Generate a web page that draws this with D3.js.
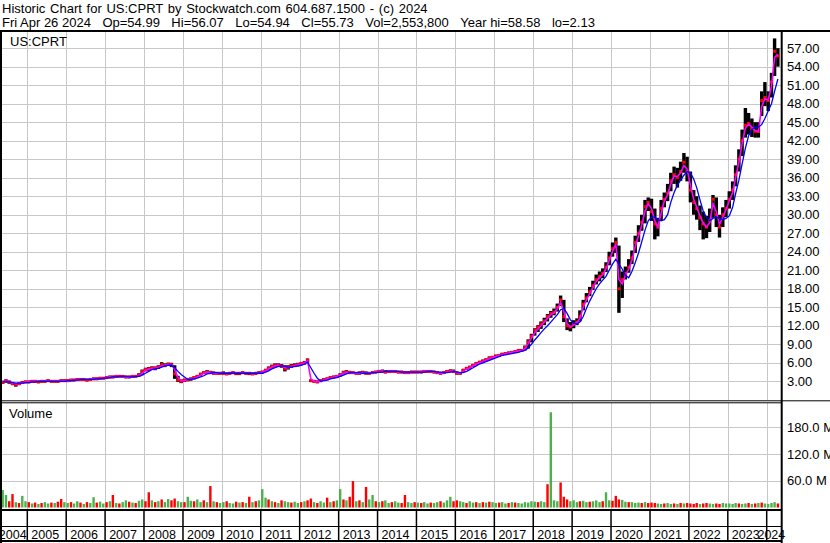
<!DOCTYPE html>
<html>
<head>
<meta charset="utf-8">
<script src="https://cdn.jsdelivr.net/npm/d3@7"></script>
<style>
  body { margin: 0; background: #fff; }
  svg { display: block; font-family: Arial, "Liberation Sans", sans-serif; }
</style>
</head>
<body>
<svg id="chart"></svg>
<script>
// Canvas size
const width = 830, height = 543;

// Header texts
const titleLine = "Historic Chart for US:CPRT by Stockwatch.com 604.687.1500 - (c) 2024";
const quoteFields = ["Fri Apr 26 2024", "Op=54.99", "Hi=56.07", "Lo=54.94", "Cl=55.73",
                     "Vol=2,553,800", "Year hi=58.58", "lo=2.13"];
const symbol = "US:CPRT";

// Monthly bars, first one is May 2004 (one row per year)
const firstYear = 2004, firstMonth = 4;

const hi = [
  3.1, 3.3, 3.1, 2.9, 2.7, 2.8, 3.0, 3.1,
  3.1, 3.2, 3.2, 3.1, 3.2, 3.2, 3.3, 3.2, 3.2, 3.2, 3.3, 3.3,
  3.3, 3.4, 3.4, 3.5, 3.5, 3.5, 3.4, 3.5, 3.6, 3.6, 3.7, 3.7,
  3.8, 3.9, 3.9, 4.0, 4.0, 4.0, 3.9, 3.9, 4.0, 4.0, 4.3, 4.9,
  5.2, 5.3, 5.4, 5.4, 5.6, 6.1, 5.9, 6.0, 6.0, 5.6, 3.9, 3.3,
  3.4, 3.5, 3.6, 3.8, 4.0, 4.4, 4.6, 4.8, 4.7, 4.6, 4.5, 4.5,
  4.6, 4.4, 4.5, 4.6, 4.5, 4.5, 4.6, 4.5, 4.5, 4.4, 4.5, 4.6,
  4.7, 5.0, 5.4, 5.7, 5.9, 5.9, 5.8, 5.6, 5.6, 5.8, 5.9, 6.0,
  6.1, 6.3, 6.7, 3.3, 3.2, 3.1, 3.3, 3.5, 3.6, 3.8, 3.9, 4.0,
  4.3, 4.7, 4.8, 4.7, 4.6, 4.5, 4.6, 4.7, 4.6, 4.5, 4.6, 4.7,
  4.8, 4.9, 4.8, 4.8, 4.8, 4.8, 4.7, 4.7, 4.6, 4.6, 4.7, 4.7,
  4.7, 4.7, 4.8, 4.8, 4.8, 4.7, 4.6, 4.5, 4.6, 4.8, 4.9, 4.9,
  4.6, 4.5, 5.0, 5.3, 5.5, 5.8, 6.1, 6.3, 6.5, 6.7, 7.0, 7.1,
  7.3, 7.4, 7.6, 7.7, 7.8, 7.9, 8.0, 8.2, 8.2, 8.8, 9.8, 10.7,
  11.6, 12.1, 12.7, 13.3, 13.9, 14.4, 14.8, 15.6, 16.9, 16.2, 13.2, 12.6,
  12.9, 13.2, 14.5, 16.2, 17.3, 18.3, 19.3, 20.3, 20.8, 21.3, 22.3, 24.0,
  25.5, 26.3, 25.0, 20.8, 21.6, 22.8, 24.2, 26.6, 28.3, 30.0, 32.4, 32.8,
  32.6, 31.0, 29.5, 32.4, 33.6, 35.0, 36.8, 37.8, 37.6, 38.6, 40.0, 39.4,
  37.0, 34.0, 33.0, 31.5, 30.5, 29.8, 31.0, 33.2, 32.8, 30.0, 31.2, 32.4,
  33.8, 35.4, 38.0, 40.6, 43.8, 47.3, 46.5, 45.6, 45.0, 45.0, 50.0, 51.5,
  50.0, 53.0, 58.58, 57.0
];

const lo = [
  2.6, 2.8, 2.6, 2.4, 2.13, 2.4, 2.6, 2.7,
  2.7, 2.8, 2.8, 2.7, 2.8, 2.8, 2.9, 2.8, 2.8, 2.8, 2.9, 2.9,
  2.9, 3.0, 3.0, 3.1, 3.1, 3.1, 3.0, 3.1, 3.2, 3.2, 3.3, 3.3,
  3.4, 3.5, 3.5, 3.6, 3.6, 3.6, 3.5, 3.5, 3.6, 3.6, 3.8, 4.0,
  4.6, 4.7, 4.9, 4.8, 5.0, 5.4, 5.3, 5.5, 5.3, 3.4, 2.9, 2.7,
  2.9, 3.0, 3.1, 3.3, 3.6, 3.9, 4.2, 4.3, 4.2, 4.1, 4.1, 4.1,
  4.1, 4.0, 4.1, 4.2, 4.0, 4.0, 4.2, 4.1, 4.0, 4.0, 4.1, 4.2,
  4.3, 4.5, 4.8, 5.1, 5.3, 5.3, 5.2, 4.6, 4.9, 5.2, 5.3, 5.4,
  5.6, 5.7, 6.0, 2.9, 2.8, 2.7, 2.9, 3.1, 3.2, 3.4, 3.5, 3.6,
  3.8, 4.1, 4.3, 4.2, 4.2, 4.1, 4.1, 4.2, 4.1, 4.1, 4.2, 4.3,
  4.4, 4.4, 4.3, 4.4, 4.4, 4.4, 4.3, 4.3, 4.2, 4.2, 4.3, 4.3,
  4.3, 4.3, 4.4, 4.4, 4.4, 4.3, 4.2, 4.1, 4.2, 4.4, 4.5, 4.4,
  4.1, 4.1, 4.5, 4.9, 5.1, 5.4, 5.7, 5.9, 6.1, 6.3, 6.5, 6.7,
  6.9, 7.0, 7.2, 7.3, 7.4, 7.5, 7.6, 7.8, 7.8, 8.0, 8.3, 9.3,
  10.4, 11.0, 11.5, 12.1, 12.7, 13.3, 13.7, 14.3, 15.2, 12.6, 11.3, 11.1,
  11.6, 12.1, 12.7, 14.5, 15.8, 16.8, 17.8, 18.7, 19.2, 19.7, 20.7, 21.8,
  23.2, 23.8, 14.1, 16.5, 19.5, 20.6, 22.0, 23.8, 25.6, 27.4, 28.6, 30.6,
  29.0, 26.0, 26.5, 29.0, 31.2, 32.2, 33.8, 35.0, 34.4, 35.5, 36.8, 35.4,
  32.0, 30.0, 29.2, 27.5, 26.0, 26.2, 27.2, 29.5, 28.0, 26.3, 28.0, 29.6,
  31.0, 32.4, 34.6, 37.0, 39.5, 42.5, 43.0, 42.6, 42.5, 42.5, 46.0, 47.6,
  46.8, 49.0, 52.5, 54.0
];

const cl = [
  2.8, 3.1, 2.9, 2.6, 2.5, 2.6, 2.8, 2.9,
  2.9, 3.0, 3.0, 2.9, 3.0, 3.0, 3.1, 3.0, 3.0, 3.0, 3.1, 3.1,
  3.1, 3.2, 3.2, 3.3, 3.3, 3.3, 3.2, 3.3, 3.4, 3.4, 3.5, 3.5,
  3.6, 3.7, 3.7, 3.8, 3.8, 3.8, 3.7, 3.7, 3.8, 3.8, 4.0, 4.6,
  4.9, 5.0, 5.2, 5.1, 5.3, 5.7, 5.6, 5.8, 5.7, 4.2, 3.2, 3.0,
  3.2, 3.3, 3.4, 3.6, 3.8, 4.1, 4.4, 4.5, 4.4, 4.3, 4.3, 4.3,
  4.3, 4.2, 4.3, 4.4, 4.3, 4.3, 4.4, 4.3, 4.3, 4.2, 4.3, 4.4,
  4.5, 4.8, 5.1, 5.4, 5.6, 5.6, 5.5, 5.0, 5.3, 5.5, 5.6, 5.7,
  5.9, 6.0, 6.4, 3.1, 3.0, 2.9, 3.1, 3.3, 3.4, 3.6, 3.7, 3.8,
  4.0, 4.4, 4.5, 4.4, 4.4, 4.3, 4.3, 4.4, 4.3, 4.3, 4.4, 4.5,
  4.6, 4.6, 4.5, 4.6, 4.6, 4.6, 4.5, 4.5, 4.4, 4.4, 4.5, 4.5,
  4.5, 4.5, 4.6, 4.6, 4.6, 4.5, 4.4, 4.3, 4.4, 4.6, 4.7, 4.6,
  4.3, 4.3, 4.8, 5.1, 5.3, 5.6, 5.9, 6.1, 6.3, 6.5, 6.8, 6.9,
  7.1, 7.2, 7.4, 7.5, 7.6, 7.7, 7.8, 8.0, 8.0, 8.5, 9.4, 10.3,
  11.3, 11.8, 12.3, 12.8, 13.5, 14.0, 14.2, 15.0, 16.2, 13.5, 12.0, 11.8,
  12.3, 12.6, 13.5, 15.5, 16.5, 17.5, 18.5, 19.5, 20.0, 20.5, 21.5, 23.0,
  24.5, 25.5, 18.0, 19.5, 20.5, 21.5, 23.0, 25.5, 27.0, 28.8, 31.3, 32.0,
  30.5, 28.5, 28.0, 31.0, 32.5, 33.5, 35.5, 36.5, 36.0, 37.0, 38.5, 37.0,
  34.0, 32.0, 31.0, 29.5, 28.5, 28.0, 29.0, 32.5, 30.0, 28.0, 30.0, 31.0,
  32.5, 34.0, 36.5, 39.0, 42.0, 44.5, 44.8, 44.0, 43.5, 43.5, 48.5, 49.0,
  48.5, 51.5, 56.5, 55.73
];

// Short moving average (magenta)
const maShort = [
  2.9, 3.0, 3.0, 2.7, 2.6, 2.6, 2.7, 2.9,
  2.9, 3.0, 3.0, 3.0, 3.0, 3.0, 3.0, 3.0, 3.0, 3.0, 3.0, 3.1,
  3.1, 3.2, 3.2, 3.3, 3.3, 3.3, 3.3, 3.3, 3.4, 3.4, 3.5, 3.5,
  3.6, 3.7, 3.7, 3.8, 3.8, 3.8, 3.7, 3.7, 3.8, 3.8, 3.9, 4.3,
  4.8, 5.0, 5.1, 5.1, 5.2, 5.5, 5.6, 5.7, 5.7, 4.9, 3.6, 3.1,
  3.1, 3.3, 3.4, 3.5, 3.7, 4.0, 4.3, 4.5, 4.4, 4.3, 4.3, 4.3,
  4.3, 4.2, 4.3, 4.3, 4.3, 4.3, 4.3, 4.3, 4.3, 4.2, 4.3, 4.3,
  4.5, 4.7, 5.0, 5.3, 5.5, 5.6, 5.5, 5.2, 5.2, 5.4, 5.5, 5.7,
  5.8, 6.0, 6.3, 3.4, 3.0, 2.9, 3.0, 3.2, 3.4, 3.5, 3.7, 3.8,
  4.0, 4.3, 4.5, 4.4, 4.4, 4.3, 4.3, 4.4, 4.3, 4.3, 4.4, 4.5,
  4.6, 4.6, 4.5, 4.6, 4.6, 4.6, 4.5, 4.5, 4.4, 4.4, 4.5, 4.5,
  4.5, 4.5, 4.6, 4.6, 4.6, 4.5, 4.4, 4.3, 4.4, 4.5, 4.6, 4.6,
  4.4, 4.3, 4.6, 5.0, 5.2, 5.5, 5.8, 6.0, 6.2, 6.4, 6.7, 6.9,
  7.0, 7.2, 7.3, 7.5, 7.6, 7.7, 7.8, 7.9, 8.0, 8.3, 9.1, 10.0,
  10.9, 11.5, 12.0, 12.6, 13.2, 13.8, 14.1, 14.7, 15.8, 14.3, 12.3, 11.8,
  12.1, 12.5, 13.2, 15.0, 16.2, 17.2, 18.2, 19.2, 19.8, 20.3, 21.2, 22.6,
  24.0, 25.3, 19.5, 18.8, 20.2, 21.2, 22.6, 24.8, 26.6, 28.3, 30.6, 31.8,
  31.0, 29.0, 28.0, 30.2, 32.2, 33.2, 35.0, 36.3, 36.2, 36.8, 38.0, 37.4,
  34.8, 32.5, 31.2, 29.8, 28.7, 28.0, 28.7, 31.8, 30.5, 28.4, 29.6, 30.8,
  32.2, 33.6, 36.0, 38.5, 41.5, 44.0, 44.7, 44.2, 43.6, 43.5, 47.5, 48.8,
  48.6, 50.8, 55.5, 56.0
];

// Long moving average (blue)
const maLong = [
  2.9, 2.9, 2.9, 2.8, 2.7, 2.7, 2.7, 2.8,
  2.8, 2.9, 2.9, 3.0, 3.0, 3.0, 3.0, 3.0, 3.0, 3.0, 3.0, 3.0,
  3.1, 3.1, 3.2, 3.2, 3.3, 3.3, 3.3, 3.3, 3.3, 3.4, 3.4, 3.5,
  3.5, 3.6, 3.7, 3.7, 3.8, 3.8, 3.8, 3.7, 3.7, 3.8, 3.8, 4.0,
  4.3, 4.6, 4.9, 5.0, 5.1, 5.3, 5.5, 5.6, 5.6, 5.2, 4.6, 4.1,
  3.7, 3.3, 3.3, 3.4, 3.5, 3.7, 3.9, 4.2, 4.3, 4.4, 4.4, 4.3,
  4.3, 4.3, 4.3, 4.3, 4.3, 4.3, 4.3, 4.3, 4.3, 4.3, 4.3, 4.3,
  4.3, 4.5, 4.7, 5.0, 5.2, 5.4, 5.5, 5.4, 5.3, 5.3, 5.4, 5.5,
  5.6, 5.8, 6.1, 5.2, 4.3, 3.5, 3.0, 3.1, 3.2, 3.4, 3.5, 3.6,
  3.8, 4.0, 4.2, 4.4, 4.4, 4.4, 4.4, 4.3, 4.3, 4.3, 4.4, 4.4,
  4.5, 4.5, 4.6, 4.6, 4.6, 4.6, 4.6, 4.5, 4.5, 4.5, 4.5, 4.5,
  4.5, 4.5, 4.5, 4.6, 4.6, 4.6, 4.5, 4.5, 4.4, 4.4, 4.5, 4.6,
  4.5, 4.4, 4.4, 4.6, 4.9, 5.2, 5.5, 5.8, 6.0, 6.2, 6.4, 6.6,
  6.8, 7.0, 7.2, 7.3, 7.4, 7.5, 7.6, 7.7, 7.9, 8.0, 8.4, 9.0,
  9.7, 10.3, 10.9, 11.5, 12.0, 12.6, 13.2, 13.8, 14.6, 14.8, 14.0, 13.0,
  12.4, 12.3, 12.6, 13.5, 14.8, 16.0, 17.0, 18.0, 18.8, 19.4, 20.0, 21.0,
  22.0, 22.8, 22.0, 21.2, 20.2, 19.8, 20.8, 22.2, 23.8, 25.6, 27.5, 29.0,
  29.6, 29.6, 29.2, 29.0, 29.2, 30.0, 32.0, 33.6, 34.8, 35.6, 36.4, 37.0,
  36.8, 35.8, 34.4, 32.4, 30.6, 29.6, 29.0, 29.4, 29.6, 29.4, 29.2, 29.4,
  29.8, 31.2, 33.4, 35.6, 38.2, 40.8, 42.8, 43.8, 44.2, 44.2, 44.6, 45.6,
  46.8, 48.0, 50.0, 52.0
];

// Volume in millions of shares; negative = down period (red), positive = up (green)
const vol = [
  39, 28, -14, -30, 12, -10, 26, 14,
  -12, 9, -11, 8, -10, 12, 9, -11, 10, -13, -19, 12,
  10, -12, 9, 14, -11, 8, -12, 10, 23, -11, 13, 9,
  -12, 14, -28, 10, -9, 12, 16, -13, 11, -10, 15, 18,
  -14, -34, 16, -12, 14, -18, 12, 19, -16, -20, 14, 12,
  -12, 24, 15, -14, 18, 12, -16, 12, -48, 14, -12, 10,
  12, -14, 10, 9, -13, 11, -12, 10, -24, 12, -14, 16,
  41, 22, -18, 14, -12, 10, -16, 14, 12, -11, 13, 10,
  -12, 14, -16, -20, 12, -10, 14, 11, -22, 12, -14, 16,
  41, -18, 16, -24, -59, 14, -16, 12, -46, 18, 28, -14,
  12, -14, 16, 10, -12, 14, 11, -10, -28, 12, 10, -12,
  11, -10, 12, 9, -11, 10, 12, -14, 11, 16, 24, -14,
  -16, 14, 12, -10, 14, 11, -12, 10, -12, 11, -13, 12,
  10, -11, 12, 9, -10, 12, -11, 10, 9, 12, 11, 14,
  13, -12, 14, 12, -52, 213, 16, 14, -56, -24, -18, 14,
  16, 12, -14, 15, 12, -13, 14, 16, 12, -14, 34, 16,
  -15, -26, -18, 17, 13, -12, 12, 10, 11, -10, 12, -10,
  -11, -10, 9, 8, -9, 10, 8, -9, 8, -10, 9, -10,
  -9, -8, -10, 8, -9, -10, 9, 8, -9, -8, 10, 9,
  9, 8, 10, -9, 8, 9, -10, 8, -9, 10, -11, 9,
  8, 10, 12, -9
];

// Axis labels
const priceTicks = [3, 6, 9, 12, 15, 18, 21, 24, 27, 30, 33, 36, 39, 42, 45, 48, 51, 54, 57];
const volTicks = [60, 120, 180];
const years = [2004, 2005, 2006, 2007, 2008, 2009, 2010, 2011, 2012, 2013, 2014,
               2015, 2016, 2017, 2018, 2019, 2020, 2021, 2022, 2023, 2024];

const dataStart = new Date(2004, 4, 1), dataEnd = new Date(2024, 3, 26);
const months = cl.map((d, i) => new Date(firstYear, firstMonth + i, 15));

// Layout
const plotLeft = 2, plotRight = 781;
const priceTop = 32, priceBottom = 400;
const volTop = 403, volBottom = 509;

const svg = d3.select("#chart")
    .attr("width", width)
    .attr("height", height);

svg.append("rect").attr("width", width).attr("height", height).attr("fill", "#fff");

// Scales
const x = d3.scaleTime()
    .domain([new Date(2005, 0, 1), new Date(2024, 0, 1)])
    .range([27.3, 766.7]);
const y = d3.scaleLinear().domain([0, 59.7]).range([399.8, 31.5]);
const yVol = d3.scaleLinear().domain([0, 233]).range([507.5, 403.3]);

const yearLines = years.slice(1).map(yr => x(new Date(yr, 0, 1)));

// Gridlines
const grid = svg.append("g").attr("stroke", "#c8c8c8").attr("stroke-width", 1);
grid.selectAll(".vgrid-p")
    .data(yearLines)
    .enter().append("line")
    .attr("x1", d => Math.round(d) + 0.5).attr("x2", d => Math.round(d) + 0.5)
    .attr("y1", priceTop).attr("y2", priceBottom);
grid.selectAll(".vgrid-v")
    .data(yearLines)
    .enter().append("line")
    .attr("x1", d => Math.round(d) + 0.5).attr("x2", d => Math.round(d) + 0.5)
    .attr("y1", volTop).attr("y2", volBottom);
grid.selectAll(".hgrid-p")
    .data(priceTicks)
    .enter().append("line")
    .attr("x1", plotLeft).attr("x2", plotRight)
    .attr("y1", d => Math.round(y(d)) + 0.5).attr("y2", d => Math.round(y(d)) + 0.5);
grid.selectAll(".hgrid-v")
    .data(volTicks)
    .enter().append("line")
    .attr("x1", plotLeft).attr("x2", plotRight)
    .attr("y1", d => Math.round(yVol(d)) + 0.5).attr("y2", d => Math.round(yVol(d)) + 0.5);

// Price panel
svg.append("clipPath").attr("id", "clip-price")
  .append("rect")
    .attr("x", plotLeft).attr("y", priceTop)
    .attr("width", plotRight - plotLeft).attr("height", priceBottom - priceTop);

const price = svg.append("g").attr("clip-path", "url(#clip-price)");

price.selectAll(".bar")
    .data(months)
    .enter().append("rect")
    .attr("class", "bar")
    .attr("x", d => x(d) - 1.7)
    .attr("width", 3.4)
    .attr("y", (d, i) => y(hi[i]))
    .attr("height", (d, i) => Math.max(2, y(lo[i]) - y(hi[i])))
    .attr("fill", "#000");

price.selectAll(".close")
    .data(months)
    .enter().append("rect")
    .attr("class", "close")
    .attr("x", d => x(d) - 1.5)
    .attr("width", 3)
    .attr("y", (d, i) => y(cl[i]) - 1.5)
    .attr("height", 3)
    .attr("fill", "#ff0000");

const line = d3.line()
    .x((d, i) => x(months[i]))
    .y(d => y(d));

price.append("path")
    .datum(maShort)
    .attr("d", line)
    .attr("fill", "none")
    .attr("stroke", "#ff00ff")
    .attr("stroke-width", 1.6);

price.append("path")
    .datum(maLong)
    .attr("d", line)
    .attr("fill", "none")
    .attr("stroke", "#0000ff")
    .attr("stroke-width", 1.3);

// Volume panel
svg.append("g").selectAll(".vol")
    .data(vol)
    .enter().append("rect")
    .attr("class", "vol")
    .attr("x", (d, i) => x(months[i]) - 1.2)
    .attr("width", 2.4)
    .attr("y", d => yVol(Math.abs(d)))
    .attr("height", d => yVol(0) - yVol(Math.abs(d)))
    .attr("fill", d => d < 0 ? "#ff0000" : "#4cb04c");

// Right-hand axes
const priceAxis = svg.append("g")
    .attr("transform", "translate(787,0)")
    .call(d3.axisRight(y).tickValues(priceTicks).tickSize(0).tickPadding(0)
        .tickFormat(d3.format(".2f")));
priceAxis.select(".domain").remove();

const volAxis = svg.append("g")
    .attr("transform", "translate(787,0)")
    .call(d3.axisRight(yVol).tickValues(volTicks).tickSize(0).tickPadding(0)
        .tickFormat(d => d.toFixed(1) + " M"));
volAxis.select(".domain").remove();

svg.selectAll(".tick text")
    .attr("font-family", "Arial, 'Liberation Sans', sans-serif")
    .attr("font-size", "13px")
    .attr("fill", "#000");

// Frame lines
const frame = svg.append("g").attr("stroke", "#000").attr("fill", "none");
frame.append("line").attr("x1", 0).attr("x2", width).attr("y1", 31).attr("y2", 31).attr("stroke-width", 2);
frame.append("line").attr("x1", 1).attr("x2", 1).attr("y1", 31).attr("y2", height).attr("stroke-width", 2);
frame.append("line").attr("x1", 781.7).attr("x2", 781.7).attr("y1", 31).attr("y2", height).attr("stroke-width", 2);
frame.append("line").attr("x1", 0).attr("x2", width).attr("y1", 400.8).attr("y2", 400.8).attr("stroke-width", 1);
frame.append("line").attr("x1", 0).attr("x2", 781).attr("y1", 402.8).attr("y2", 402.8).attr("stroke-width", 1);
frame.append("line").attr("x1", 0).attr("x2", 782).attr("y1", 510).attr("y2", 510).attr("stroke-width", 2);
frame.append("line").attr("x1", 0).attr("x2", 782).attr("y1", 526.5).attr("y2", 526.5).attr("stroke-width", 1);
frame.append("line").attr("x1", 0).attr("x2", 782).attr("y1", 541).attr("y2", 541).attr("stroke-width", 2);
frame.selectAll(".yeartick")
    .data(yearLines)
    .enter().append("line")
    .attr("x1", d => d).attr("x2", d => d)
    .attr("y1", 510).attr("y2", 541)
    .attr("stroke-width", 1.5);

// Year labels, centred in the visible part of each year
svg.selectAll(".year")
    .data(years)
    .enter().append("text")
    .attr("class", "year")
    .attr("x", yr => {
        const a = x(d3.max([new Date(yr, 0, 1), dataStart]));
        const b = x(d3.min([new Date(yr + 1, 0, 1), dataEnd]));
        return (a + b) / 2 - 1.5;
    })
    .attr("y", 539)
    .attr("text-anchor", "middle")
    .attr("font-size", "12.5px")
    .text(yr => yr);

// Header: title line, then the quote fields separated by a small gap
svg.append("text").attr("x", 2).attr("y", 12.5)
    .attr("font-size", "13px").attr("word-spacing", "1.1px")
    .text(titleLine);

const quote = svg.append("text").attr("y", 26.5).attr("font-size", "13px");
let qx = 2;
quoteFields.forEach(function(f) {
    const t = quote.append("tspan").attr("x", qx).text(f);
    qx += t.node().getComputedTextLength() + 11.5;
});

svg.append("text").attr("x", 10).attr("y", 45.5)
    .attr("font-size", "13px").text(symbol);
svg.append("text").attr("x", 9).attr("y", 417.5)
    .attr("font-size", "13px").text("Volume");
</script>
</body>
</html>
